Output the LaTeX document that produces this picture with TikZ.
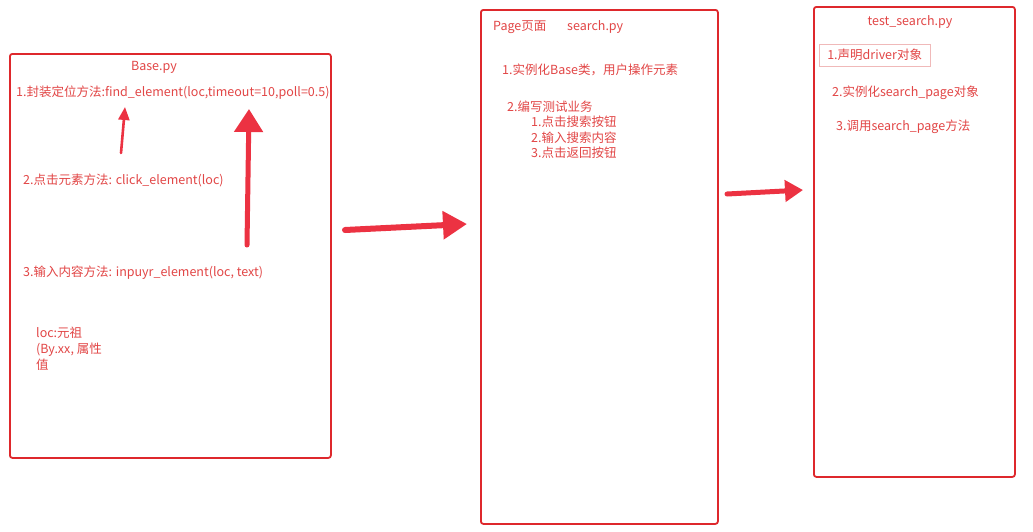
\documentclass[tikz,border=0pt]{standalone}
\usepackage{fontspec}
\setmainfont{Noto Sans CJK SC}
\usetikzlibrary{arrows.meta}
\definecolor{boxred}{RGB}{222,40,44}
\definecolor{txtred}{RGB}{226,70,70}
\definecolor{arrred}{RGB}{236,50,66}
\definecolor{palered}{RGB}{240,185,185}
\tikzset{
  frame/.style={draw=boxred,line width=1.8pt,rounded corners=2.5pt,anchor=north west,inner sep=0pt},
  txt/.style={text=txtred,font=\fontsize{12.5}{15.5}\selectfont,inner sep=0pt,anchor=west},
  fat/.style={draw=arrred,line width=#1,line cap=round}
}
\begin{document}
\begin{tikzpicture}[x=1pt,y=-1pt]
  \useasboundingbox[fill=white] (0,0) rectangle (1033,531);
  % three files
  \node[frame,minimum width=321,minimum height=404] (basebox) at (9,53) {};
  \node[frame,minimum width=237,minimum height=514] (pagebox) at (480,9) {};
  \node[frame,minimum width=201,minimum height=470] (testbox) at (813,6) {};
  % Base.py
  \node[txt,anchor=center] (basetitle) at (154,67) {Base.py};
  \node[txt] (find) at (16,93) {1.封装定位方法:find\_element(loc,timeout=10,poll=0.5)};
  \node[txt] (click) at (23,180) {2.点击元素方法: click\_element(loc)};
  \node[txt] (input) at (23,273) {3.输入内容方法: inpuyr\_element(loc, text)};
  \node[txt,align=left,anchor=north west,font=\fontsize{12.5}{15.8}\selectfont] (loc) at (36,327)
    {loc:元祖\\(By.xx, 属性\\值};
  % search.py
  \node[txt] (pagetitle) at (493,27) {Page页面};
  \node[txt] (pagefile) at (567,27) {search.py};
  \node[txt] (inst) at (502,70) {1.实例化Base类，用户操作元素};
  \node[txt] (biz) at (507,107) {2.编写测试业务};
  \node[txt,align=left,anchor=north west,font=\fontsize{12.5}{15.6}\selectfont] (steps) at (531,116)
    {1.点击搜索按钮\\2.输入搜索内容\\3.点击返回按钮};
  % test_search.py
  \node[txt,anchor=center] (testtitle) at (910,22) {test\_search.py};
  \node[txt,draw=palered,line width=0.6pt,inner xsep=8pt,inner ysep=5pt] (driver) at (819,55) {1.声明driver对象};
  \node[txt] (page) at (832,93) {2.实例化search\_page对象};
  \node[txt] (call) at (836,127) {3.调用search\_page方法};
  % arrows
  \coordinate (a1s) at (345,230);
  \coordinate (a1e) at (467,224);
  \coordinate (a2s) at (727,194);
  \coordinate (a2e) at (803,190);
  \coordinate (u1s) at (121,153);
  \coordinate (u1e) at (125,107);
  \coordinate (u2s) at (247,245);
  \coordinate (u2e) at (249,109);
  \draw[fat=6pt,-{Triangle[length=24pt,width=27pt]}] (a1s) -- (a1e);
  \draw[fat=5pt,-{Triangle[length=18pt,width=21pt]}] (a2s) -- (a2e);
  \draw[fat=2.6pt,-{Triangle[length=13pt,width=11pt]}] (u1s) -- (u1e);
  \draw[fat=5pt,-{Triangle[length=23pt,width=28pt]}] (u2s) -- (u2e);
\end{tikzpicture}
\end{document}
